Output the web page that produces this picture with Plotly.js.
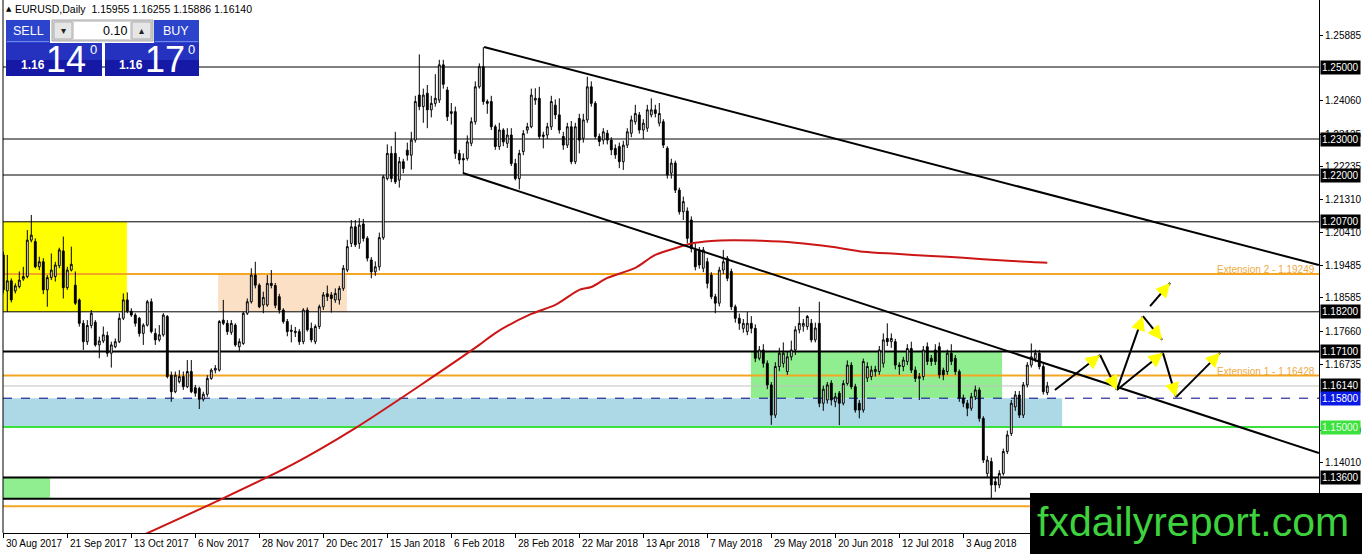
<!DOCTYPE html>
<html><head><meta charset="utf-8">
<script src="https://cdn.plot.ly/plotly-3.0.1.min.js"></script>
<style>html,body{margin:0;padding:0;background:#fff;overflow:hidden}#chart{width:1362px;height:554px}</style>
</head><body><div id="chart"></div>
<script>
// ---------- DATA (EURUSD Daily) ----------
const openP = [1.1978,1.1878,1.1906,1.1878,1.1890,1.1911,1.1918,1.2019,1.2015,1.1945,1.1959,1.1881,1.1915,1.1918,1.1948,1.1989,1.1887,1.1936,1.1894,1.1853,
1.1788,1.1737,1.1782,1.1791,1.1728,1.1739,1.1754,1.1705,1.1723,1.1737,1.1802,1.1853,1.1822,1.1811,1.1802,1.1760,1.1783,1.1848,1.1760,1.1742,
1.1756,1.1807,1.1644,1.1598,1.1626,1.1640,1.1612,1.1654,1.1609,1.1607,1.1577,1.1591,1.1635,1.1658,1.1658,1.1797,1.1788,1.1763,1.1783,1.1723,
1.1732,1.1816,1.1848,1.1922,1.1894,1.1839,1.1839,1.1899,1.1893,1.1862,1.1825,1.1793,1.1769,1.1762,1.1765,1.1737,1.1825,1.1774,1.1737,1.1779,
1.1834,1.1870,1.1867,1.1853,1.1853,1.1885,1.1936,1.2010,1.2056,1.2010,1.2064,1.2024,1.1964,1.1931,1.1945,1.2026,1.2190,1.2260,1.2260,1.2186,
1.2237,1.2269,1.2255,1.2297,1.2422,1.2390,1.2427,1.2381,1.2399,1.2408,1.2506,1.2436,1.2371,1.2376,1.2260,1.2246,1.2246,1.2288,1.2348,1.2445,
1.2501,1.2404,1.2404,1.2334,1.2279,1.2325,1.2288,1.2311,1.2232,1.2190,1.2265,1.2325,1.2334,1.2408,1.2413,1.2307,1.2311,1.2334,1.2394,1.2367,
1.2307,1.2283,1.2334,1.2237,1.2357,1.2302,1.2353,1.2445,1.2399,1.2307,1.2297,1.2316,1.2297,1.2274,1.2279,1.2237,1.2283,1.2316,1.2348,1.2367,
1.2325,1.2330,1.2367,1.2381,1.2344,1.2348,1.2274,1.2205,1.2233,1.2158,1.2098,1.2100,1.2075,1.1992,1.1992,1.1941,1.1959,1.1922,1.1862,1.1844,
1.1936,1.1969,1.1932,1.1834,1.1802,1.1774,1.1765,1.1788,1.1774,1.1691,1.1714,1.1677,1.1617,1.1533,1.1668,1.1677,1.1654,1.1695,1.1714,1.1770,
1.1780,1.1779,1.1788,1.1742,1.1788,1.1566,1.1575,1.1622,1.1570,1.1594,1.1566,1.1621,1.1672,1.1612,1.1566,1.1547,1.1636,1.1640,1.1654,1.1654,
1.1677,1.1746,1.1737,1.1737,1.1672,1.1668,1.1682,1.1718,1.1658,1.1635,1.1640,1.1723,1.1691,1.1714,1.1723,1.1658,1.1654,1.1705,1.1691,1.1654,
1.1580,1.1566,1.1552,1.1584,1.1603,1.1524,1.1371,1.1404,1.1348,1.1339,1.1371,1.1432,1.1482,1.1556,1.1589,1.1533,1.1617,1.1672,1.1690,1.1705,
1.1668,1.15955];
const highP = [1.1987,1.1978,1.1913,1.1899,1.1932,1.1945,1.2047,1.2089,1.2024,1.1973,1.1969,1.1922,1.1982,1.1959,1.1998,1.2029,1.1945,1.2001,1.1932,1.1857,
1.1797,1.1797,1.1825,1.1797,1.1751,1.1779,1.1765,1.1737,1.1746,1.1816,1.1871,1.1874,1.1830,1.1816,1.1806,1.1788,1.1853,1.1857,1.1774,1.1783,
1.1816,1.1811,1.1654,1.1654,1.1658,1.1654,1.1686,1.1686,1.1617,1.1612,1.1598,1.1644,1.1663,1.1672,1.1797,1.1853,1.1797,1.1797,1.1788,1.1746,
1.1820,1.1857,1.1941,1.1959,1.1899,1.1876,1.1922,1.1936,1.1900,1.1870,1.1830,1.1800,1.1784,1.1778,1.1772,1.1830,1.1832,1.1790,1.1785,1.1840,
1.1875,1.1893,1.1875,1.1885,1.1892,1.1950,1.2020,1.2075,1.2075,1.2080,1.2078,1.2030,1.1972,1.1960,1.2040,1.2200,1.2285,1.2280,1.2320,1.2250,
1.2245,1.2290,1.2320,1.2420,1.2535,1.2440,1.2450,1.2420,1.2480,1.2520,1.2520,1.2445,1.2400,1.2390,1.2270,1.2260,1.2310,1.2360,1.2460,1.2510,
1.2555,1.2410,1.2420,1.2340,1.2345,1.2330,1.2330,1.2330,1.2245,1.2270,1.2325,1.2345,1.2440,1.2441,1.2445,1.2320,1.2345,1.2420,1.2410,1.2413,
1.2320,1.2345,1.2350,1.2345,1.2370,1.2370,1.2473,1.2460,1.2405,1.2315,1.2330,1.2325,1.2305,1.2285,1.2290,1.2295,1.2330,1.2365,1.2395,1.2375,
1.2355,1.2395,1.2413,1.2395,1.2400,1.2355,1.2280,1.2245,1.2240,1.2165,1.2140,1.2110,1.2085,1.2010,1.2000,1.2000,1.1970,1.1930,1.1870,1.1945,
1.1992,1.1975,1.1940,1.1840,1.1815,1.1800,1.1820,1.1808,1.1785,1.1725,1.1730,1.1685,1.1625,1.1680,1.1720,1.1735,1.1710,1.1740,1.1780,1.1834,
1.1800,1.1811,1.1800,1.1790,1.1848,1.1615,1.1625,1.1630,1.1595,1.1600,1.1630,1.1685,1.1680,1.1620,1.1575,1.1690,1.1680,1.1670,1.1670,1.1725,
1.1760,1.1788,1.1760,1.1745,1.1680,1.1695,1.1730,1.1737,1.1668,1.1650,1.1725,1.1735,1.1700,1.1730,1.1735,1.1665,1.1715,1.1730,1.1700,1.1660,
1.1590,1.1575,1.1595,1.1615,1.1610,1.1530,1.1420,1.1415,1.1360,1.1380,1.1440,1.1490,1.1575,1.1600,1.1600,1.1625,1.1680,1.1732,1.1715,1.1714,
1.1675,1.16255];
const lowP = [1.1871,1.1820,1.1846,1.1871,1.1885,1.1906,1.1913,1.2013,1.1941,1.1936,1.1869,1.1834,1.1908,1.1904,1.1941,1.1857,1.1881,1.1932,1.1839,1.1779,
1.1714,1.1728,1.1774,1.1723,1.1691,1.1733,1.1695,1.1665,1.1719,1.1733,1.1797,1.1816,1.1806,1.1779,1.1751,1.1728,1.1779,1.1760,1.1728,1.1737,
1.1751,1.1635,1.1570,1.1594,1.1621,1.1603,1.1608,1.1594,1.1584,1.1550,1.1571,1.1584,1.1631,1.1649,1.1654,1.1783,1.1756,1.1756,1.1723,1.1709,
1.1728,1.1811,1.1843,1.1885,1.1830,1.1816,1.1834,1.1885,1.1830,1.1815,1.1787,1.1752,1.1735,1.1750,1.1728,1.1730,1.1765,1.1735,1.1730,1.1772,
1.1825,1.1850,1.1818,1.1845,1.1840,1.1878,1.1930,1.2000,1.2000,1.1995,1.2015,1.1960,1.1913,1.1920,1.1935,1.2020,1.2185,1.2180,1.2175,1.2165,
1.2205,1.2240,1.2215,1.2290,1.2380,1.2345,1.2330,1.2360,1.2390,1.2400,1.2440,1.2350,1.2340,1.2245,1.2230,1.2205,1.2240,1.2280,1.2340,1.2440,
1.2395,1.2370,1.2325,1.2270,1.2270,1.2280,1.2275,1.2225,1.2185,1.2160,1.2255,1.2315,1.2330,1.2395,1.2300,1.2274,1.2300,1.2325,1.2355,1.2315,
1.2270,1.2275,1.2230,1.2230,1.2260,1.2290,1.2345,1.2390,1.2300,1.2280,1.2285,1.2285,1.2255,1.2245,1.2219,1.2214,1.2275,1.2305,1.2340,1.2315,
1.2300,1.2320,1.2360,1.2360,1.2335,1.2275,1.2190,1.2190,1.2150,1.2090,1.2075,1.2010,1.1985,1.1935,1.1940,1.1930,1.1885,1.1855,1.1816,1.1835,
1.1925,1.1905,1.1825,1.1790,1.1770,1.1762,1.1755,1.1760,1.1680,1.1685,1.1665,1.1605,1.1506,1.1525,1.1655,1.1665,1.1645,1.1685,1.1700,1.1760,
1.1765,1.1770,1.1735,1.1735,1.1555,1.1545,1.1565,1.1560,1.1555,1.1505,1.1560,1.1615,1.1605,1.1540,1.1524,1.1540,1.1625,1.1630,1.1640,1.1645,
1.1665,1.1725,1.1720,1.1660,1.1645,1.1655,1.1672,1.1650,1.1625,1.1575,1.1630,1.1672,1.1670,1.1672,1.1635,1.1630,1.1645,1.1672,1.1645,1.1570,
1.1555,1.1530,1.1545,1.1575,1.1515,1.1400,1.1360,1.1302,1.1320,1.1330,1.1365,1.1425,1.1475,1.1545,1.1525,1.1525,1.1610,1.1665,1.1680,1.1660,
1.1590,1.15886];
const closeP = [1.1881,1.1906,1.1853,1.1892,1.1908,1.1918,1.2019,1.2033,1.1945,1.1959,1.1881,1.1915,1.1936,1.1950,1.1992,1.1887,1.1936,1.1952,1.1844,1.1788,
1.1737,1.1782,1.1816,1.1728,1.1739,1.1756,1.1705,1.1728,1.1737,1.1802,1.1853,1.1822,1.1811,1.1788,1.1760,1.1783,1.1848,1.1765,1.1742,1.1756,
1.1811,1.1640,1.1598,1.1644,1.1640,1.1612,1.1654,1.1598,1.1594,1.1577,1.1591,1.1635,1.1658,1.1663,1.1793,1.1788,1.1765,1.1788,1.1728,1.1737,
1.1816,1.1848,1.1922,1.1894,1.1834,1.1860,1.1899,1.1893,1.1838,1.1825,1.1793,1.1765,1.1766,1.1766,1.1737,1.1825,1.1770,1.1742,1.1779,1.1834,
1.1867,1.1862,1.1857,1.1871,1.1885,1.1941,1.2001,1.2056,1.2006,1.2061,1.2024,1.1969,1.1931,1.1945,1.2026,1.2195,1.2260,1.2190,1.2181,1.2237,
1.2218,1.2255,1.2297,1.2404,1.2390,1.2422,1.2381,1.2399,1.2413,1.2506,1.2452,1.2362,1.2376,1.2260,1.2242,1.2242,1.2292,1.2348,1.2445,1.2501,
1.2404,1.2399,1.2334,1.2279,1.2325,1.2292,1.2311,1.2232,1.2190,1.2260,1.2315,1.2334,1.2422,1.2413,1.2307,1.2311,1.2334,1.2404,1.2367,1.2325,
1.2283,1.2334,1.2237,1.2334,1.2297,1.2353,1.2445,1.2399,1.2307,1.2293,1.2320,1.2297,1.2270,1.2256,1.2237,1.2283,1.2320,1.2353,1.2371,1.2325,
1.2344,1.2381,1.2381,1.2371,1.2371,1.2283,1.2200,1.2233,1.2158,1.2098,1.2126,1.2024,1.1996,1.1945,1.1950,1.1992,1.1899,1.1862,1.1844,1.1936,
1.1959,1.1913,1.1834,1.1802,1.1788,1.1788,1.1788,1.1774,1.1691,1.1714,1.1677,1.1617,1.1533,1.1668,1.1705,1.1705,1.1695,1.1714,1.1770,1.1788,
1.1788,1.1807,1.1742,1.1775,1.1566,1.1605,1.1617,1.1575,1.1584,1.1566,1.1621,1.1672,1.1612,1.1547,1.1547,1.1682,1.1668,1.1658,1.1660,1.1714,
1.1742,1.1737,1.1746,1.1672,1.1668,1.1686,1.1718,1.1658,1.1635,1.1640,1.1714,1.1682,1.1682,1.1682,1.1645,1.1645,1.1705,1.1682,1.1654,1.1580,
1.1566,1.1552,1.1584,1.1603,1.1524,1.1408,1.1408,1.1339,1.1339,1.1371,1.1432,1.1478,1.1566,1.1589,1.1533,1.1617,1.1672,1.1695,1.1705,1.1668,
1.1598,1.16140];

// 200-period moving average (bar index, price)
const maBar = [35,54,72,88,104,119,123,132,138,144,147,151,158,163,169,172,177,182,188,198,207,215,223,232,240,248,257,261];
const maVal = [1.1200,1.1297,1.1394,1.1497,1.1614,1.1728,1.1761,1.1814,1.1839,1.1881,1.1889,1.1914,1.1942,1.1978,1.2000,1.2010,1.2017,1.2019,1.2018,1.2012,1.2001,1.1987,1.1981,1.1975,1.1970,1.1964,1.1958,1.1956];

// x-axis date labels (bar index of each tick)
const xTickBar = [0,16,32,48,64,80,96,112,128,144,160,176,192,208,224,240];
const xTickText = ['30 Aug 2017','21 Sep 2017','13 Oct 2017','6 Nov 2017','28 Nov 2017','20 Dec 2017','15 Jan 2018','6 Feb 2018','28 Feb 2018','22 Mar 2018','13 Apr 2018','7 May 2018','29 May 2018','20 Jun 2018','12 Jul 2018','3 Aug 2018'];

// price-scale ticks
const yTickVals = [1.25885,1.24060,1.23135,1.22235,1.21310,1.20410,1.19485,1.18585,1.17660,1.16735,1.14910,1.14010];

// horizontal levels
const levelPrices = [1.25000,1.23000,1.22000,1.20700,1.18200,1.17100,1.19249,1.16428,1.16140,1.15800,1.15000,1.13600,1.13010,1.12800];
const levelKinds  = ['res','res','res','res','res','key','ext','ext','bid','dash','sup','key','key','ext'];
// boxed price labels on the scale
const boxPrices = [1.25000,1.23000,1.22000,1.20700,1.18200,1.17100,1.16140,1.15800,1.15000,1.13600];
const boxKinds  = ['k','k','k','k','k','k','k','b','g','k'];
// extension labels
const extNames = ['Extension 2 - 1.19249','Extension 1 - 1.16428'];
const extPrices = [1.19249,1.16428];

// zones: [startBar, endBar, top, bottom]
const zoneStart = [-1, 53.7, 186.9, -1, -1];
const zoneEnd   = [30.9, 85.9, 249.7, 264.7, 11.7];
const zoneTop   = [1.2070, 1.19265, 1.1710, 1.1580, 1.1360];
const zoneBot   = [1.1820, 1.1820, 1.1580, 1.1500, 1.1301];
const zoneKinds = ['yellow','peach','green','blue','green'];

// trend lines: start/end (bar, price)
const trendStartBar = [120.2, 114.9];
const trendStartPx  = [1.25556, 1.22056];
const trendEndBar   = [328.9, 328.9];
const trendEndPx    = [1.19500, 1.14278];

// scenario arrows (bar, price)
const arrFromBar = [262.9,274.2,278.4,284.9,286.7,278.4,289.9,293.2];
const arrFromPx  = [1.1603,1.1700,1.1603,1.1808,1.1836,1.1603,1.1706,1.1583];
const arrToBar   = [274.2,278.4,284.9,289.7,291.7,289.9,293.2,304.2];
const arrToPx    = [1.1700,1.1603,1.1808,1.1742,1.1900,1.1706,1.1583,1.1706];

// ---------- LAYOUT CONSTANTS ----------
const W = 1362, H = 554, ML = 3, MR = 43, MT = 0, MB = 21;
const PW = W - ML - MR, PH = H - MT - MB;
const X0 = -0.075, X1 = X0 + PW / 4.0;
const YTOP = 1.25 + 67 / 3600, YBOT = YTOP - PH / 3600;
const pxX = px => (px - ML) / PW;            // pixel -> paper x
const pxY = py => (MT + PH - py) / PH;       // pixel -> paper y
const FONT = 'Liberation Sans, Arial, sans-serif';

const bars = closeP.map((_, i) => i);

const traces = [
  {type:'candlestick', x:bars, open:openP, high:highP, low:lowP, close:closeP,
   increasing:{line:{color:'#000000', width:1}, fillcolor:'#ffffff'},
   decreasing:{line:{color:'#000000', width:1}, fillcolor:'#000000'},
   whiskerwidth:0, hoverinfo:'skip', showlegend:false},
  {type:'scatter', mode:'lines', x:maBar, y:maVal, line:{color:'#cc1616', width:2, shape:'spline', smoothing:0.8},
   hoverinfo:'skip', showlegend:false}
];

const shapes = [];
const zoneColors = {yellow:'#ffff00', peach:'#fbe0c6', green:'#90ee90', blue:'#add8e6'};
zoneStart.forEach((s, k) => {
  shapes.push({type:'rect', xref:'x', yref:'y', x0:s, x1:zoneEnd[k], y0:zoneBot[k], y1:zoneTop[k],
    fillcolor:zoneColors[zoneKinds[k]], line:{width:0}, layer:'below'});
});
const levelStyle = {
  res:{color:'#000000', width:1}, key:{color:'#000000', width:2}, ext:{color:'#f4a623', width:2},
  bid:{color:'#c0c0c0', width:1}, dash:{color:'#000080', width:1, dash:'dash'}, sup:{color:'#3ce03c', width:2}
};
levelPrices.forEach((p, k) => {
  shapes.push({type:'line', xref:'x', yref:'y', x0:X0, x1:X1, y0:p, y1:p, line:levelStyle[levelKinds[k]], layer:'below'});
});
// left border
shapes.push({type:'line', xref:'paper', yref:'paper', x0:0, x1:0, y0:0, y1:1, line:{color:'#000', width:1}, layer:'above'});
// trend lines
trendStartBar.forEach((b, k) => {
  shapes.push({type:'line', xref:'x', yref:'y', x0:b, y0:trendStartPx[k], x1:trendEndBar[k], y1:trendEndPx[k],
    line:{color:'#000000', width:2}, layer:'above'});
});
// scenario arrow shafts
arrFromBar.forEach((b, k) => {
  shapes.push({type:'line', xref:'x', yref:'y', x0:b, y0:arrFromPx[k], x1:arrToBar[k], y1:arrToPx[k],
    line:{color:'#000000', width:2}, layer:'above'});
});

// trade panel
function pRect(x0, y0, x1, y1, fill, lc) {
  shapes.push({type:'rect', xref:'paper', yref:'paper', x0:pxX(x0), x1:pxX(x1), y0:pxY(y1), y1:pxY(y0),
    fillcolor:fill, line:lc ? {color:lc, width:1} : {width:0}, layer:'above'});
}
pRect(6, 20, 50, 43, '#2c43cc');
pRect(7, 41, 49, 42, '#6f86e6');
pRect(52, 20, 153, 41, '#d6d6d6', '#a8a8a8');
pRect(54, 22, 72, 39, '#e6e6e6', '#b0b0b0');
pRect(74, 22, 130, 39, '#ffffff');
pRect(132, 22, 151, 39, '#e6e6e6', '#b0b0b0');
pRect(154, 20, 199, 43, '#2c43cc');
pRect(155, 41, 198, 42, '#6f86e6');
pRect(6, 43, 102, 60, '#2532c0');
pRect(6, 60, 102, 76, '#1618a6');
pRect(105, 43, 199, 60, '#2532c0');
pRect(105, 60, 199, 76, '#1618a6');
// watermark box
pRect(1030, 493, 1362, 554, '#000000');

const ann = [];
function pText(txt, x, y, size, color, xanchor, bold, fam) {
  ann.push({xref:'paper', yref:'paper', x:pxX(x), y:pxY(y), text: bold ? '<b>' + txt + '</b>' : txt,
    showarrow:false, xanchor:xanchor || 'center', yanchor:'middle',
    font:{size:size, color:color, family:fam || FONT}});
}
pText('▲', 4, 9, 7, '#000', 'left', false, 'DejaVu Sans');
pText('EURUSD,Daily  1.15955 1.16255 1.15886 1.16140', 13, 9, 10.5, '#000', 'left');
pText('SELL', 28, 31, 12.5, '#ffffff');
pText('BUY', 176, 31, 12.5, '#ffffff');
pText('0.10', 129, 31, 12.5, '#000', 'right');
pText('▾', 63, 31, 10, '#222', 'center', false, 'DejaVu Sans');
pText('▴', 141, 31, 10, '#222', 'center', false, 'DejaVu Sans');
pText('1.16', 33, 65, 12, '#ffffff', 'center', true);
pText('14', 66, 60, 36, '#ffffff');
pText('0', 88, 49, 13, '#ffffff', 'left');
pText('1.16', 131, 65, 12, '#ffffff', 'center', true);
pText('17', 165, 60, 36, '#ffffff');
pText('0', 186, 49, 13, '#ffffff', 'left');
pText('fxdailyreport.com', 1193, 522, 41, '#3fd23f');

// x date labels
xTickBar.forEach((b, k) => {
  ann.push({xref:'x', yref:'paper', x:b, y:0, yanchor:'top', xanchor:'left', xshift:1, yshift:-3,
    text:xTickText[k], showarrow:false, font:{size:10, color:'#000', family:FONT}});
});
// boxed price labels
const boxBg = {k:'#000000', b:'#0a1ae6', g:'#3be23b'};
const boxFg = {k:'#ffffff', b:'#ffffff', g:'#eaffea'};
boxPrices.forEach((p, k) => {
  ann.push({xref:'paper', yref:'y', x:1, y:p, xanchor:'left', yanchor:'middle', xshift:1,
    text:p.toFixed(5), showarrow:false, bgcolor:boxBg[boxKinds[k]], borderpad:1,
    font:{size:10, color:boxFg[boxKinds[k]], family:FONT}});
});
// extension labels
extNames.forEach((t, k) => {
  ann.push({xref:'paper', yref:'y', x:1, y:extPrices[k], xanchor:'right', yanchor:'bottom', xshift:-2, yshift:-3,
    text:t, showarrow:false, font:{size:10, color:'#eeaa44', family:FONT}});
});
// yellow arrow heads
const pxPerBar = PW / (X1 - X0), pxPerPrice = PH / (YTOP - YBOT);
arrFromBar.forEach((b, k) => {
  const dx = (arrToBar[k] - b) * pxPerBar;
  const dy = -(arrToPx[k] - arrFromPx[k]) * pxPerPrice;
  const len = Math.hypot(dx, dy);
  ann.push({xref:'x', yref:'y', x:arrToBar[k], y:arrToPx[k], text:'', showarrow:true,
    ax:-dx / len * 9, ay:-dy / len * 9, arrowhead:2, arrowsize:1.3, arrowwidth:2.2, arrowcolor:'#ffff00', standoff:0});
});

const layout = {
  width:W, height:H, margin:{l:ML, r:MR, t:MT, b:MB, pad:0},
  paper_bgcolor:'#ffffff', plot_bgcolor:'#ffffff', showlegend:false, boxgap:0.35,
  font:{family:FONT, size:10, color:'#000'},
  xaxis:{range:[X0, X1], showgrid:false, zeroline:false, showticklabels:false, ticks:'outside', ticklen:4,
    tickvals:xTickBar, tickcolor:'#000', showline:true, linecolor:'#000', linewidth:1, rangeslider:{visible:false}, fixedrange:true},
  yaxis:{range:[YBOT, YTOP], side:'right', showgrid:false, zeroline:false, ticks:'outside', ticklen:3, tickcolor:'#000',
    tickvals:yTickVals, ticktext:yTickVals.map(v => v.toFixed(5)), tickfont:{size:10, color:'#000', family:FONT},
    showline:true, linecolor:'#000', linewidth:1, fixedrange:true},
  shapes:shapes, annotations:ann
};
Plotly.newPlot('chart', traces, layout, {staticPlot:true, displayModeBar:false});
</script></body></html>
